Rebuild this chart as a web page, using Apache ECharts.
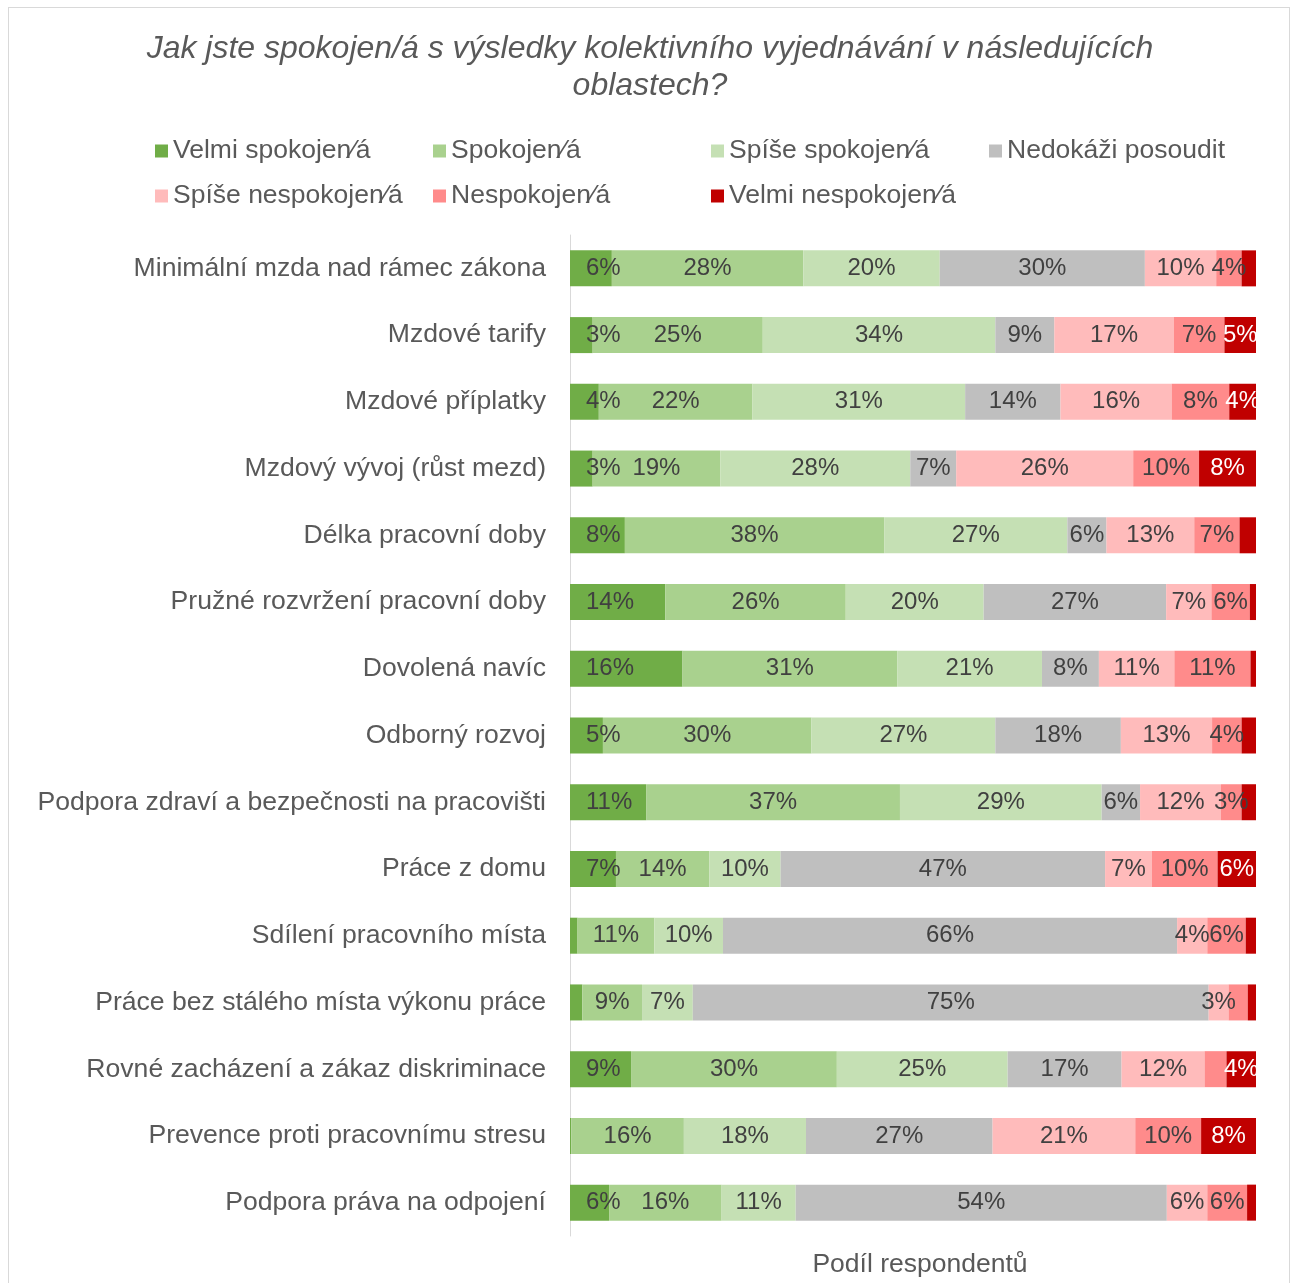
<!DOCTYPE html>
<html>
<head>
<meta charset="utf-8">
<script src="https://cdn.jsdelivr.net/npm/echarts@6/dist/echarts.min.js"></script>
<style>
  html, body { margin: 0; padding: 0; background: #fff; }
  #frame { position: absolute; left: 8px; top: 7px; width: 1282px; height: 1300px; border: 1px solid #D9D9D9; box-sizing: border-box; }
  #chart { position: absolute; left: 0; top: 0; width: 1291px; height: 1283px; }
</style>
</head>
<body>
<div id="frame"></div>
<div id="chart"></div>
<script>
// Survey areas (top to bottom)
const categories = [
  'Minimální mzda nad rámec zákona',
  'Mzdové tarify',
  'Mzdové příplatky',
  'Mzdový vývoj (růst mezd)',
  'Délka pracovní doby',
  'Pružné rozvržení pracovní doby',
  'Dovolená navíc',
  'Odborný rozvoj',
  'Podpora zdraví a bezpečnosti na pracovišti',
  'Práce z domu',
  'Sdílení pracovního místa',
  'Práce bez stálého místa výkonu práce',
  'Rovné zacházení a zákaz diskriminace',
  'Prevence proti pracovnímu stresu',
  'Podpora práva na odpojení'
];

// Answer shares in % per area, one array per answer option
const velmiSpokojen   = [6.1, 3.3, 4.2, 3.3, 8.0, 13.9, 16.4, 4.8, 11.1, 6.7, 1.1, 1.8, 8.9, 0.2, 5.7];
const spokojen        = [27.9, 24.8, 22.4, 18.6, 37.8, 26.3, 31.3, 30.4, 37.0, 13.6, 11.2, 8.7, 30.0, 16.4, 16.4];
const spiseSpokojen   = [19.9, 33.9, 31.0, 27.7, 26.7, 20.1, 21.1, 26.8, 29.4, 10.4, 10.0, 7.4, 24.9, 17.8, 10.8];
const nedokaziPosoudit= [29.9, 8.6, 13.9, 6.7, 5.7, 26.6, 8.3, 18.3, 5.6, 47.3, 66.2, 75.2, 16.6, 27.2, 54.1];
const spiseNespokojen = [10.4, 17.4, 16.2, 25.8, 12.8, 6.6, 11.0, 13.3, 11.8, 6.8, 4.4, 2.9, 12.1, 20.8, 5.9];
const nespokojen      = [3.7, 7.4, 8.4, 9.6, 6.6, 5.6, 11.1, 4.3, 3.0, 9.6, 5.6, 2.8, 3.2, 9.6, 5.8];
const velmiNespokojen = [2.1, 4.6, 3.9, 8.3, 2.4, 0.9, 0.8, 2.1, 2.1, 5.6, 1.5, 1.2, 4.3, 8.0, 1.3];

const seriesNames = [
  'Velmi spokojen⁄á', 'Spokojen⁄á', 'Spíše spokojen⁄á', 'Nedokáži posoudit',
  'Spíše nespokojen⁄á', 'Nespokojen⁄á', 'Velmi nespokojen⁄á'
];
const seriesValues = [velmiSpokojen, spokojen, spiseSpokojen, nedokaziPosoudit,
  spiseNespokojen, nespokojen, velmiNespokojen];
const seriesColors = ['#70AD47', '#A9D18E', '#C5E0B4', '#BFBFBF', '#FFBBBB', '#FF8B8B', '#C00000'];

// Segments whose value label is left out ([area index, answer index]); tiny ones are skipped too
const unlabeled = [[11, 5], [12, 5]];
const labelMin = 2.5;

const chart = echarts.init(document.getElementById('chart'), null, { renderer: 'canvas' });
const FONT = 'Liberation Sans, Arial, sans-serif';

const series = seriesValues.map((vals, si) => ({
  name: seriesNames[si],
  type: 'bar',
  stack: 'total',
  barWidth: 36,
  itemStyle: { color: seriesColors[si] },
  data: vals.map((v, ci) => {
    const hide = v < labelMin || unlabeled.some(p => p[0] === ci && p[1] === si);
    return hide ? { value: v, label: { show: false } } : v;
  }),
  label: {
    show: true,
    // first segment labels sit at a fixed indent from the bar start
    position: si === 0 ? 'insideLeft' : 'inside',
    distance: si === 0 ? 16 : 5,
    fontFamily: FONT,
    fontSize: 24,
    color: si === 6 ? '#FFFFFF' : '#404040',
    formatter: p => Math.round(p.value) + '%'
  }
}));

chart.setOption({
  animation: false,
  backgroundColor: 'transparent',
  title: {
    text: 'Jak jste spokojen/á s výsledky kolektivního vyjednávání v následujících\noblastech?',
    left: 645,
    textAlign: 'center',
    top: 26,
    textStyle: {
      fontFamily: FONT,
      fontStyle: 'italic',
      fontWeight: 'normal',
      fontSize: 32,
      lineHeight: 37,
      color: '#595959'
    }
  },
  legend: {
    left: 155,
    top: 136,
    width: 1120,
    padding: 0,
    itemGap: 15,
    itemWidth: 13,
    itemHeight: 13,
    icon: 'rect',
    data: seriesNames,
    textStyle: {
      fontFamily: FONT,
      fontSize: 26.5,
      lineHeight: 30,
      color: '#595959',
      width: 245,
      overflow: 'none'
    }
  },
  grid: { left: 570, right: 35, top: 235, bottom: 47, containLabel: false, outerBoundsMode: 'none' },
  xAxis: {
    type: 'value',
    min: 0,
    max: 100,
    name: 'Podíl respondentů',
    nameLocation: 'middle',
    nameGap: 15,
    nameTextStyle: { fontFamily: FONT, fontSize: 26.5, color: '#595959', padding: [0, 0, 0, 14] },
    axisLine: { show: false },
    axisTick: { show: false },
    axisLabel: { show: false },
    splitLine: { show: false }
  },
  yAxis: {
    type: 'category',
    inverse: true,
    data: categories,
    axisLine: { show: true, lineStyle: { color: '#D9D9D9', width: 1 } },
    axisTick: { show: false },
    axisLabel: { fontFamily: FONT, fontSize: 26.6, color: '#595959', margin: 24 }
  },
  series: series
});
</script>
</body>
</html>
